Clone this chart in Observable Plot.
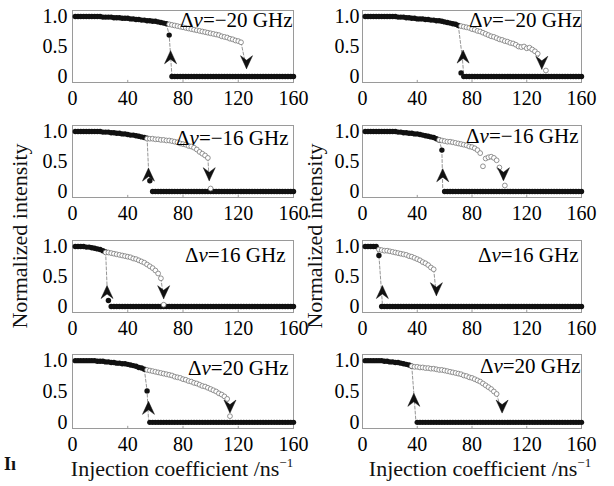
<!DOCTYPE html>
<html><head><meta charset="utf-8">
<script src="https://cdn.jsdelivr.net/npm/d3@7"></script>
<script src="https://cdn.jsdelivr.net/npm/@observablehq/plot@0.6"></script>
<style>
body{margin:0;background:#fff;}
#wrap{position:relative;width:614px;height:486px;overflow:hidden;font-family:"Liberation Serif",serif;color:#111;}
.panel{position:absolute;}
.lab{position:absolute;white-space:nowrap;transform:translate(-50%,-50%);line-height:1;}
.ylab{transform:translate(-50%,-50%) rotate(-90deg);font-size:22px;}
.xlab{font-size:22px;}
.xlab sup{font-size:13px;position:relative;top:-9px;vertical-align:baseline;}
</style></head><body><div id="wrap"></div>
<script>
// ---------- tick labels ----------
const xTicks = [0, 40, 80, 120, 160];
const yTicks = [0, 0.5, 1];
const yTickLabels = ["0", "0.5", "1.0"];
const detunings = ["−20", "−20", "−16", "−16", "16", "16", "20", "20"];

// ---------- forward sweep (filled), injection 2,4,...,160 ----------
const filledA = [1,1,1,1,1,1,1,1,1,1, .99,.99,.99,.99,.98, .98,.98,.97,.97,.97, .96,.96,.95,.95,.94, .94,.93,.93,.92,.92, .91,.90,.89,.88, .69,
 0,0,0,0,0,0,0,0,0,0, 0,0,0,0,0,0,0,0,0,0, 0,0,0,0,0,0,0,0,0,0, 0,0,0,0,0,0,0,0,0,0, 0,0,0,0,0];
const filledB = [1,1,1,1,1,1,1,1,1,1,1,1, .99,.99,.99,.98,.98,.97,.97,.96,.96,.96,.95,.95,.94,.94,.93,.93,.92,.91,.90,.89,.88,.87,.85, .06,
 0,0,0,0,0,0,0,0,0,0, 0,0,0,0,0,0,0,0,0,0, 0,0,0,0,0,0,0,0,0,0, 0,0,0,0,0,0,0,0,0,0, 0,0,0,0];
const filledC = [1,1,1,1,1,1,1,1,1,1, .99,.99,.99,.98,.98,.97,.97,.96,.96,.95,.94,.94,.93,.92,.91,.90,.89, .18,
 0,0,0,0,0,0,0,0,0,0, 0,0,0,0,0,0,0,0,0,0, 0,0,0,0,0,0,0,0,0,0, 0,0,0,0,0,0,0,0,0,0, 0,0,0,0,0,0,0,0,0,0, 0,0];
const filledD = [1,1,1,1,1,1,1,1,1,1,1,1, .99,.99,.98,.98,.97,.97,.96,.96,.95,.94,.93,.92,.91,.90,.88,.86, .69,
 0,0,0,0,0,0,0,0,0,0, 0,0,0,0,0,0,0,0,0,0, 0,0,0,0,0,0,0,0,0,0, 0,0,0,0,0,0,0,0,0,0, 0,0,0,0,0,0,0,0,0,0, 0];
const filledE = [1,1,1,1,.99,.99,.98,.97,.96,.95,.93,.91, .10,
 0,0,0,0,0,0,0,0,0,0, 0,0,0,0,0,0,0,0,0,0, 0,0,0,0,0,0,0,0,0,0, 0,0,0,0,0,0,0,0,0,0, 0,0,0,0,0,0,0,0,0,0, 0,0,0,0,0,0,0,0,0,0, 0,0,0,0,0,0,0];
const filledF = [1,1,1,1,1, .85,
 0,0,0,0,0,0,0,0,0,0, 0,0,0,0,0,0,0,0,0,0, 0,0,0,0,0,0,0,0,0,0, 0,0,0,0,0,0,0,0,0,0, 0,0,0,0,0,0,0,0,0,0, 0,0,0,0,0,0,0,0,0,0, 0,0,0,0,0,0,0,0,0,0, 0,0,0,0];
const filledG = [1,1,1,1,1,1,1,1, .99,.99,.99,.98,.98,.97,.97,.96,.96,.95,.95,.94,.93,.92,.91,.89,.88,.86, .51,
 0,0,0,0,0,0,0,0,0,0, 0,0,0,0,0,0,0,0,0,0, 0,0,0,0,0,0,0,0,0,0, 0,0,0,0,0,0,0,0,0,0, 0,0,0,0,0,0,0,0,0,0, 0,0,0];
const filledH = [1,1,1,1,1,1,1, .99,.99,.98,.98,.97,.97,.96,.95,.94,.93,.91, null,
 0,0,0,0,0,0,0,0,0,0, 0,0,0,0,0,0,0,0,0,0, 0,0,0,0,0,0,0,0,0,0, 0,0,0,0,0,0,0,0,0,0, 0,0,0,0,0,0,0,0,0,0, 0,0,0,0,0,0,0,0,0,0, 0];

// ---------- backward sweep (open), step 2 from the given start ----------
const openA = [.87,.86,.85,.84,.83,.82,.81,.80,.79,.78,.77,.76,.75,.74,.73,.72,.71,.70,.69,.67,.66,.65,.63,.62,.60,.59,.57];
const openB = [.84,.83,.82,.81,.79,.78,.76,.75,.73,.71,.69,.67,.66,.64,.62,.61,.59,.58,.56,.55,.53,.50,.49,.50,.47,.48,.45,.42,.38,null,null,.10];
const openC = [.88,.88,.88,.87,.87,.86,.86,.85,.85,.84,.83,.82,.80,.79,.78,.76,.75,.73,.70,.66,.63,.60,.56,.05];
const openD = [.86,.85,.84,.83,.83,.82,.81,.80,.79,.78,.77,.75,.74,.72,.69,.64,.42,.55,.57,.58,.56,.52,.40,null,.10];
const openE = [.90,.90,.89,.88,.87,.86,.85,.84,.83,.82,.80,.79,.77,.75,.73,.70,.67,.64,.60,.55,.47,.03];
const openF = [.95,.94,.93,.93,.92,.91,.90,.89,.88,.87,.86,.84,.83,.81,.79,.77,.74,.72,.69,.65,.62];
const openG = [.85,.84,.83,.82,.81,.80,.79,.78,.77,.76,.74,.73,.72,.70,.69,.67,.66,.64,.63,.61,.59,.58,.56,.54,.52,.50,.47,.45,.42,.38,.10];
const openH = [.91,.90,.90,.89,.89,.88,.88,.87,.87,.86,.85,.85,.84,.83,.82,.81,.80,.79,.78,.76,.75,.73,.72,.70,.68,.66,.63,.60,.57,.54,.50,.46];
const openStarts = [70, 72, 54, 56, 24, 12, 54, 36];

// ---------- jump arrows (tip positions) and dashed guides ----------
const upArrows   = [[71,.43],[73.5,.44],[55,.39],[58.6,.38],[25,.35],[14.5,.35],[55,.34],[37.5,.47]];
const downArrows = [[126,.13],[131,.12],[99,.18],[103,.18],[66,.13],[54,.18],[114,.15],[102,.15]];
const guidesUp = [
  [[68,.88],[70,.69],[72,0]], [[70,.85],[73,.3],[74,0]], [[54,.89],[55,.39]], [[56,.86],[58,.69],[58.6,.05]],
  [[24,.91],[25,.35]], [[10,1],[12,.85],[14.5,.05]], [[52,.86],[54,.51],[55,.05]], [[36,.91],[37.5,.47],[39,.02]]];
const guidesDown = [
  [[122,.57],[126,.13]], [[128,.38],[131,.12]], [[98,.56],[99,.18]], [[100,.40],[103,.18]],
  [[64,.47],[66,.13]], [[52,.62],[54,.18]], [[112,.38],[114,.15]], [[98,.46],[102,.15]]];

const filledAll = [filledA, filledB, filledC, filledD, filledE, filledF, filledG, filledH];
const openAll = [openA, openB, openC, openD, openE, openF, openG, openH];

// layout
const rowTops = [0, 115, 230, 344];
const innerH = [72, 72, 72, 74];
const textOffsets = [[-1,2],[0,2],[-5,5],[-3,3],[-8,7],[-3,7],[-5,6],[-1,4]];

const stealth = {
  draw(ctx, size) {
    const s = Math.sqrt(size / Math.PI) / 6;
    ctx.moveTo(0, 0);
    ctx.quadraticCurveTo(3.2*s, 7*s, 6*s, 13*s);
    ctx.lineTo(0, 8.5*s);
    ctx.lineTo(-6*s, 13*s);
    ctx.quadraticCurveTo(-3.2*s, 7*s, 0, 0);
    ctx.closePath();
  }
};

const wrap = document.getElementById("wrap");
const font = "Liberation Serif, serif";

for (let p = 0; p < 8; p++) {
  const col = p % 2, row = Math.floor(p / 2);
  const filled = filledAll[p].map((y, i) => ({x: 2 + 2*i, y})).filter(d => d.y != null);
  const open = openAll[p].map((y, i) => ({x: openStarts[p] + 2*i, y})).filter(d => d.y != null);
  const arrows = [{x: upArrows[p][0], y: upArrows[p][1], rot: 0}, {x: downArrows[p][0], y: downArrows[p][1], rot: 180}];
  const label = "Δν=" + detunings[p] + " GHz";
  const [tdx, tdy] = textOffsets[p];
  const svg = Plot.plot({
    width: 307,
    height: 10 + innerH[row] + 33,
    marginLeft: col ? 55 : 72,
    marginRight: col ? 33 : 14,
    marginTop: 10,
    marginBottom: 33,
    x: {domain: [0, 160], label: null},
    y: {domain: [-0.1, 1.1], label: null},
    style: {fontFamily: font, fontSize: "20px", color: "#000", background: "transparent", overflow: "visible"},
    marks: [
      Plot.frame({stroke: "#9a9a9a", strokeWidth: 1}),
      Plot.ruleX(xTicks.slice(1, -1), {y1: -0.1, y2: -0.065, stroke: "#9a9a9a"}),
      Plot.axisX(xTicks, {tickSize: 0, tickPadding: 8, fontSize: 20, label: null, fill: "#000", tickFormat: d => String(d)}),
      Plot.axisY(yTicks, {tickSize: 0, tickPadding: col ? 3 : 5, fontSize: 20, label: null, fill: "#000", tickFormat: d => yTickLabels[yTicks.indexOf(d)]}),
      Plot.line(guidesUp[p], {x: d => d[0], y: d => d[1], stroke: "#7a7a7a", strokeWidth: 0.8, strokeDasharray: "3,2"}),
      Plot.line(guidesDown[p], {x: d => d[0], y: d => d[1], stroke: "#7a7a7a", strokeWidth: 0.8, strokeDasharray: "3,2"}),
      Plot.dot(filled, {x: "x", y: "y", r: 2.7, fill: "#111", stroke: "none"}),
      Plot.dot(open, {x: "x", y: "y", r: 2.4, fill: "white", stroke: "#777", strokeWidth: 0.8}),
      Plot.dot(arrows, {x: "x", y: "y", symbol: stealth, r: 6, fill: "#111", stroke: "#111", strokeWidth: 0.5, rotate: "rot"}),
      Plot.text([label], {text: d => d, frameAnchor: "top-right", textAnchor: "end", lineAnchor: "top", dx: tdx, dy: tdy, fontSize: 21, fill: "#000"})
    ]
  });
  d3.select(svg).selectAll("text").each(function() {
    const t = this.textContent;
    if (t.startsWith("Δν")) {
      const rest = t.slice(2);
      const s = d3.select(this);
      s.text(null);
      s.append("tspan").text("Δ");
      s.append("tspan").attr("font-style", "italic").text("ν");
      s.append("tspan").text(rest);
    }
  });
  svg.classList.add("panel");
  svg.style.left = (col ? 307 : 0) + "px";
  svg.style.top = rowTops[row] + "px";
  svg.style.position = "absolute";
  wrap.appendChild(svg);
}

function addLabel(html, cls, x, y) {
  const d = document.createElement("div");
  d.className = "lab " + cls;
  d.innerHTML = html;
  d.style.left = x + "px";
  d.style.top = y + "px";
  wrap.appendChild(d);
}
addLabel("Normalized intensity", "ylab", 20, 236);
addLabel("Normalized intensity", "ylab", 315, 236);
addLabel("Injection coefficient /ns<sup>−1</sup>", "xlab", 182, 469);
addLabel("Injection coefficient /ns<sup>−1</sup>", "xlab", 480, 469);
const il = document.createElement("div");
il.style.cssText = "position:absolute;left:4px;top:455px;font-weight:bold;font-size:18px;line-height:1;white-space:nowrap;";
il.textContent = "Iı";
wrap.appendChild(il);
</script>
</body></html>
